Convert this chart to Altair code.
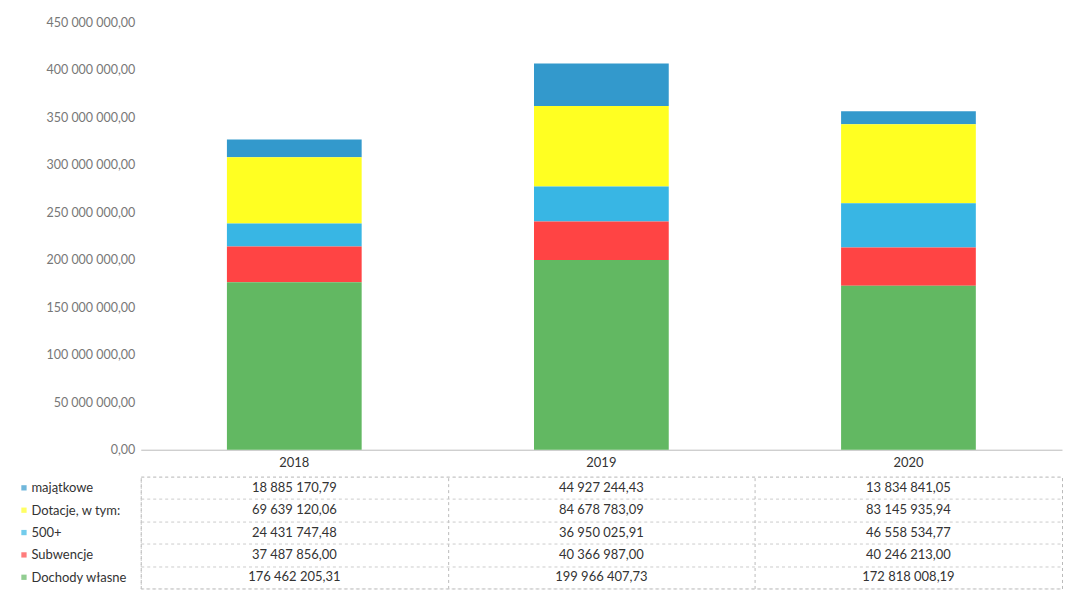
import altair as alt
import pandas as pd

years = ["2018", "2019", "2020"]
categories = ["majątkowe", "Dotacje, w tym:", "500+", "Subwencje", "Dochody własne"]
colors = ["#3399CC", "#FFFF22", "#38B6E4", "#FF4444", "#62B862"]

majatkowe = [18885170.79, 44927244.43, 13834841.05]
dotacje = [69639120.06, 84678783.09, 83145935.94]
plus500 = [24431747.48, 36950025.91, 46558534.77]
subwencje = [37487856.00, 40366987.00, 40246213.00]
dochody_wlasne = [176462205.31, 199966407.73, 172818008.19]

y_ticks = [0, 50e6, 100e6, 150e6, 200e6, 250e6, 300e6, 350e6, 400e6, 450e6]

series = [majatkowe, dotacje, plus500, subwencje, dochody_wlasne]


def pl(v):
    return f"{v:,.2f}".replace(",", " ").replace(".", ",")


rows = []
for ci, (cat, vals) in enumerate(zip(categories, series)):
    for yi, yr in enumerate(years):
        rows.append({
            "year": yr,
            "category": cat,
            "value": vals[yi],
            "stack": len(categories) - 1 - ci,
            "label": pl(vals[yi]),
        })
df = pd.DataFrame(rows)
df_cat = pd.DataFrame({"category": categories})

FONT = "Lato"
color_scale = alt.Scale(domain=categories, range=colors)

bars = alt.Chart(df).mark_bar(size=135).encode(
    x=alt.X("year:N", sort=years,
            scale=alt.Scale(paddingInner=0, paddingOuter=0),
            axis=alt.Axis(title=None, labelAngle=0, ticks=False, domain=True,
                          domainColor="#bbbbbb", labelPadding=7, labelFontSize=13,
                          labelColor="#333333", labelFont=FONT,
                          minExtent=20, maxExtent=20)),
    y=alt.Y("value:Q", stack="zero",
            scale=alt.Scale(domain=[0, 450e6], nice=False),
            axis=alt.Axis(title=None, values=y_ticks, grid=False, domain=False,
                          ticks=False, labelPadding=6, labelFontSize=12.5,
                          labelColor="#777777", labelFont=FONT,
                          labelExpr="replace(replace(format(datum.value, ',.2f'), regexp(',', 'g'), ' '), '.', ',')",
                          minExtent=132, maxExtent=132)),
    color=alt.Color("category:N", scale=color_scale, legend=None),
    order=alt.Order("stack:Q"),
).properties(width=923, height=428)

tbl_x = alt.X("year:N", sort=years,
              scale=alt.Scale(paddingInner=0, paddingOuter=0),
              axis=alt.Axis(title=None, labels=False, ticks=False, domain=False,
                            grid=True, tickBand="extent", gridColor="#bbbbbb",
                            gridDash=[3, 3], minExtent=0, maxExtent=0))
tbl_y = alt.Y("category:N", sort=categories,
              scale=alt.Scale(paddingInner=0, paddingOuter=0),
              axis=alt.Axis(title=None, ticks=False, tickSize=0, domain=False,
                            grid=True, tickBand="extent", gridColor="#cccccc",
                            gridDash=[3, 3], labelAlign="left", labelPadding=110,
                            labelFontSize=13, labelColor="#333333", labelFont=FONT,
                            minExtent=132, maxExtent=132))

table_text = alt.Chart(df).mark_text(fontSize=13, color="#333333", font=FONT).encode(
    x=tbl_x, y=tbl_y, text="label:N"
)
markers = alt.Chart(df_cat).mark_square(size=28, opacity=0.7).encode(
    x=alt.value(-117),
    y=alt.Y("category:N", sort=categories),
    color=alt.Color("category:N", scale=color_scale, legend=None),
)
table = alt.layer(table_text, markers).properties(
    width=923, height=112,
    view=alt.ViewBackground(stroke="#cccccc", strokeDash=[3, 3]),
)

chart = alt.vconcat(bars, table, spacing=0).properties(
    padding={"top": 8, "left": 0, "right": 0, "bottom": 0}
).configure_view(stroke=None)

chart.save("out.html", embed_options={"renderer": "svg", "actions": False})
